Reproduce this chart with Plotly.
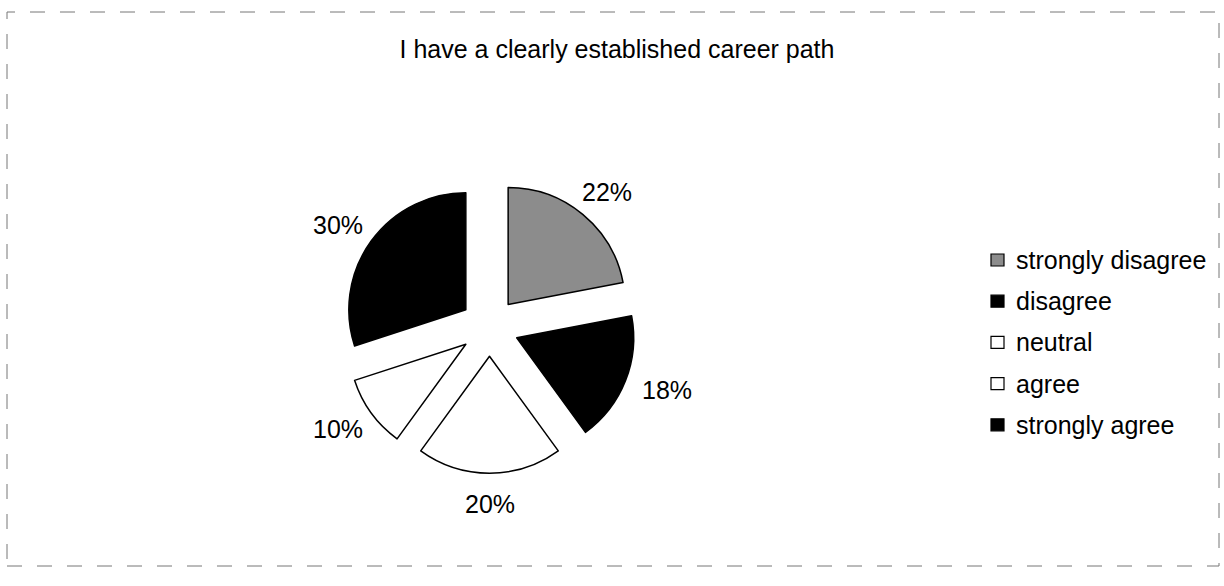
import math
import plotly.graph_objects as go

# Survey responses for the statement
categories = ["strongly disagree", "disagree", "neutral", "agree", "strongly agree"]
shares = [22, 18, 20, 10, 30]
slice_colors = ["#8c8c8c", "#000000", "#ffffff", "#ffffff", "#000000"]

W, H = 1224, 586
FONT = "Arial, Liberation Sans, Helvetica, sans-serif"


def px_x(x):
    return x / W


def px_y(y):
    return 1 - y / H


# Pie box: centre and radius in page pixels, every slice pulled out equally
cx, cy, r, pull = 489.5, 327, 117, 0.25
half = r * (1 + pull)

fig = go.Figure(
    go.Pie(
        labels=categories,
        values=shares,
        sort=False,
        direction="clockwise",
        rotation=0,
        pull=[pull] * len(shares),
        marker=dict(colors=slice_colors, line=dict(color="#000000", width=1.5)),
        textinfo="none",
        domain=dict(
            x=[px_x(cx - half), px_x(cx + half)],
            y=[px_y(cy + half), px_y(cy - half)],
        ),
        showlegend=False,
        hoverinfo="label+percent",
    )
)

shapes = []
annotations = []

# Percentage labels placed outside each slice, along its middle angle
total = sum(shares)
label_r = 168
lab_w, lab_h = 49, 18
start = 0.0
for v in shares:
    span = 360.0 * v / total
    mid = math.radians(start + span / 2)
    ux, uy = math.sin(mid), -math.cos(mid)
    lx = cx + ux * (label_r + lab_w / 2 * abs(ux))
    ly = cy + uy * (label_r + lab_h / 2 * abs(uy))
    annotations.append(
        dict(
            text=f"{100 * v / total:.0f}%", xref="paper", yref="paper",
            x=px_x(lx), y=px_y(ly), xanchor="center", yanchor="middle",
            showarrow=False, font=dict(family=FONT, size=25, color="#000000"),
        )
    )
    start += span

# Legend drawn as swatches plus labels
leg_x_sw, leg_x_txt = 991, 1014
leg_y0, leg_step = 260, 41.2
for i, (name, col) in enumerate(zip(categories, slice_colors)):
    yc = leg_y0 + i * leg_step
    shapes.append(
        dict(
            type="rect", xref="paper", yref="paper",
            x0=px_x(leg_x_sw), x1=px_x(leg_x_sw + 13),
            y0=px_y(yc + 6), y1=px_y(yc - 6),
            fillcolor=col, line=dict(color="#000000", width=1.2),
        )
    )
    annotations.append(
        dict(
            text=name, xref="paper", yref="paper",
            x=px_x(leg_x_txt), y=px_y(yc),
            xanchor="left", yanchor="middle", showarrow=False,
            font=dict(family=FONT, size=25, color="#000000"),
        )
    )

# Chart frame
shapes.append(
    dict(
        type="rect", xref="paper", yref="paper",
        x0=px_x(7), x1=px_x(1219), y0=px_y(566), y1=px_y(12),
        line=dict(color="#777777", width=1, dash="longdash"),
        fillcolor="rgba(0,0,0,0)",
    )
)

fig.update_layout(
    width=W,
    height=H,
    margin=dict(l=0, r=0, t=0, b=0),
    paper_bgcolor="#ffffff",
    plot_bgcolor="#ffffff",
    title=dict(
        text="I have a clearly established career path",
        font=dict(family=FONT, size=25, color="#000000"),
        x=617 / W, xanchor="center",
        y=px_y(49), yanchor="middle", yref="container",
    ),
    shapes=shapes,
    annotations=annotations,
    showlegend=False,
)

fig.write_html("out.html")
